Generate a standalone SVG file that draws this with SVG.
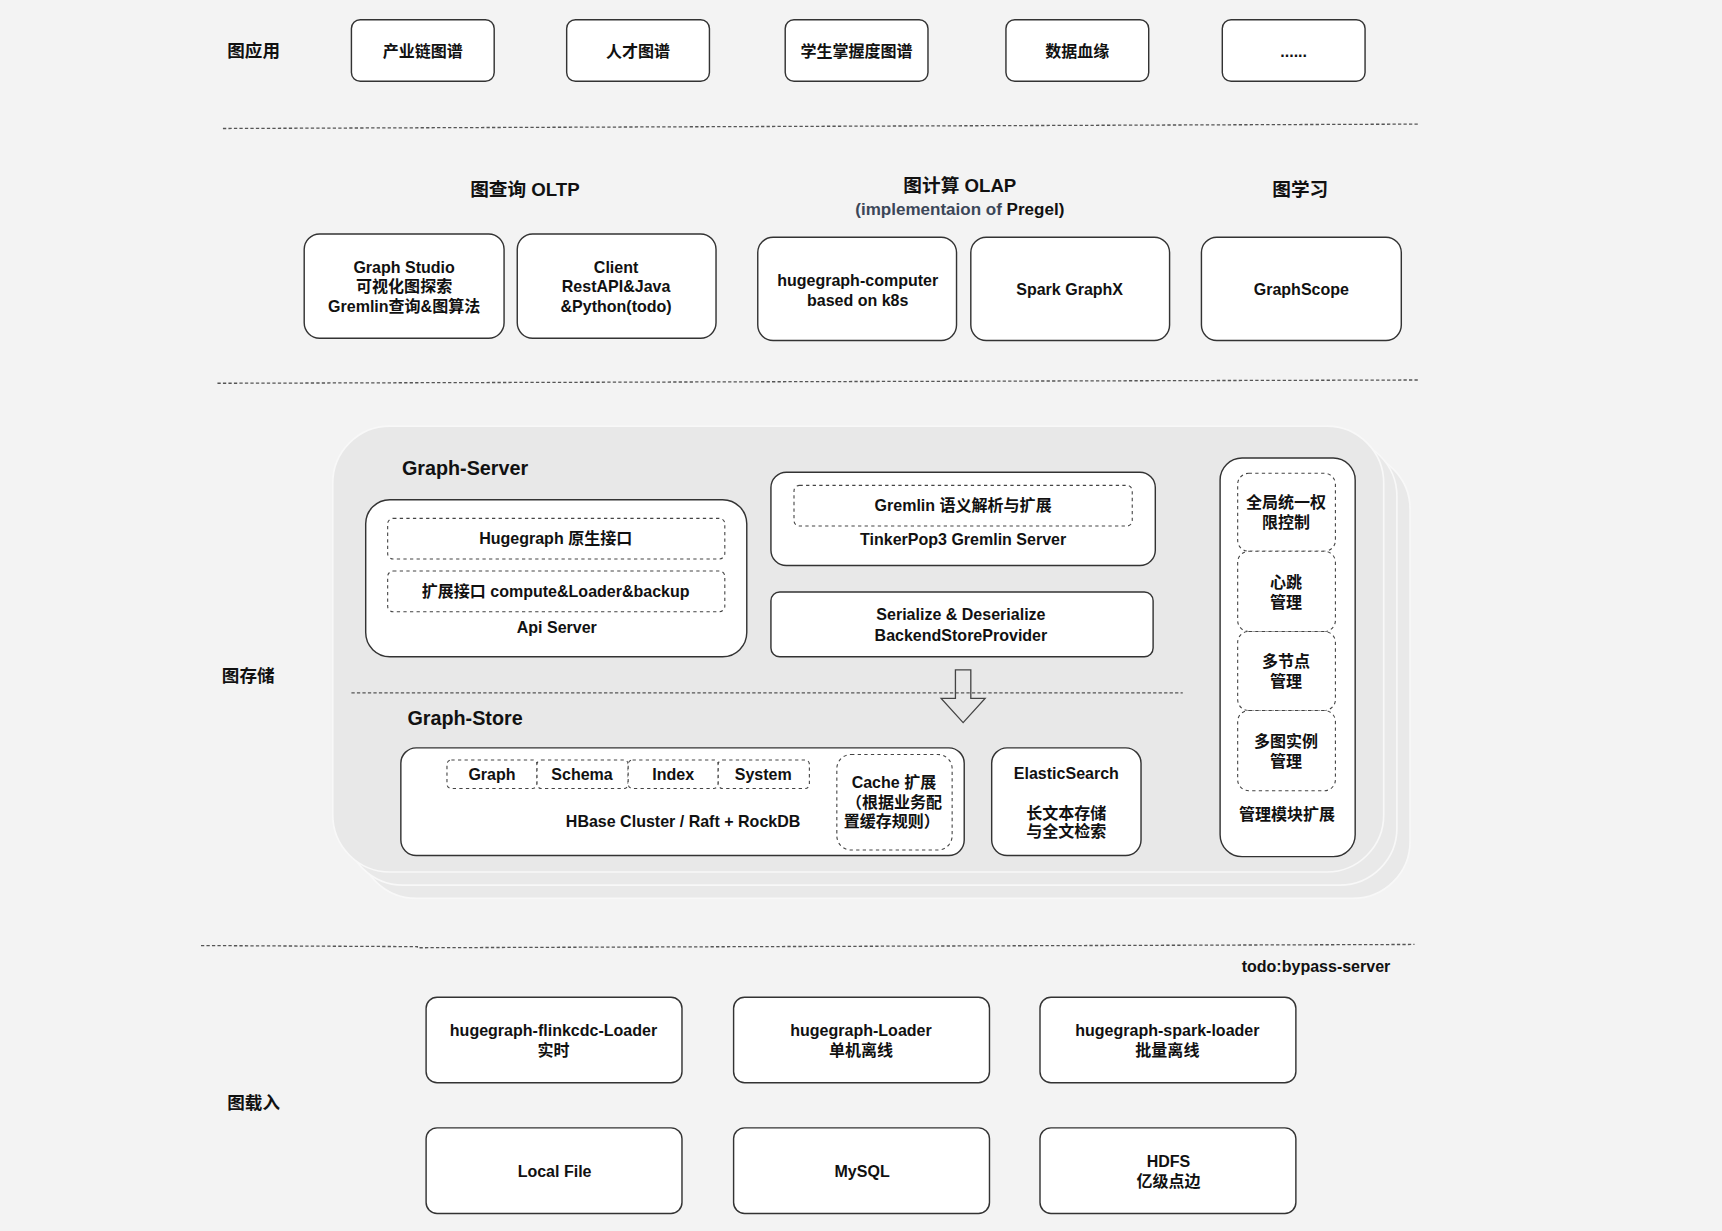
<svg xmlns="http://www.w3.org/2000/svg" width="1722" height="1231" viewBox="0 0 1722 1231">
<defs>
<style>
.t{font-family:"Liberation Sans","Noto Sans CJK SC",sans-serif;font-weight:bold;font-size:14.6px;fill:#111;text-anchor:middle;dominant-baseline:central}
.h{font-size:17px}
.lbl{text-anchor:start;font-size:16px}
.box{fill:#fff;stroke:#333;stroke-width:1.3}
.dbox{fill:#fff;stroke:#444;stroke-width:1;stroke-dasharray:3 3}
.sep{fill:none;stroke:#555;stroke-width:1.2;stroke-dasharray:3 2}
.layer{fill:#e9e9e9;stroke:#f8f8f8;stroke-width:1.5}
</style>
</defs>
<rect width="1722" height="1231" fill="#f3f3f3"/>
<g transform="scale(1.0982)">
<g id="separators">
<polyline class="sep" points="203,117 1293,113"/>
<polyline class="sep" points="198,349 1293,346"/>
<polyline class="sep" points="183,861 380,862 380,863 1288,860"/>
</g>
<g id="row-app">
<text class="t lbl" x="207" y="46">图应用</text>
<g id="app1"><rect class="box" x="320" y="18" width="130" height="56" rx="8"/><text class="t" x="385" y="46">产业链图谱</text></g>
<g id="app2"><rect class="box" x="516" y="18" width="130" height="56" rx="8"/><text class="t" x="581" y="46">人才图谱</text></g>
<g id="app3"><rect class="box" x="715" y="18" width="130" height="56" rx="8"/><text class="t" x="780" y="46">学生掌握度图谱</text></g>
<g id="app4"><rect class="box" x="916" y="18" width="130" height="56" rx="8"/><text class="t" x="981" y="46">数据血缘</text></g>
<g id="app5"><rect class="box" x="1113" y="18" width="130" height="56" rx="8"/><text class="t" x="1178" y="46">......</text></g>
</g>
<g id="row-compute">
<text class="t h" x="478" y="173">图查询 OLTP</text>
<text class="t h" x="874" y="169">图计算 OLAP</text>
<text class="t" x="874" y="190" style="font-size:15.5px"><tspan fill="#3b4658">(implementaion of </tspan><tspan>Pregel)</tspan></text>
<text class="t h" x="1184" y="173">图学习</text>
<g id="studio"><rect class="box" x="277" y="213" width="182" height="95" rx="14"/>
<text class="t" x="368" y="243">Graph Studio</text><text class="t" x="368" y="260">可视化图探索</text><text class="t" x="368" y="279">Gremlin查询&amp;图算法</text></g>
<g id="client"><rect class="box" x="471" y="213" width="181" height="95" rx="14"/>
<text class="t" x="561" y="243">Client</text><text class="t" x="561" y="260">RestAPI&amp;Java</text><text class="t" x="561" y="279">&amp;Python(todo)</text></g>
<g id="computer"><rect class="box" x="690" y="216" width="181" height="94" rx="14"/>
<text class="t" x="781" y="255">hugegraph-computer</text><text class="t" x="781" y="273">based on k8s</text></g>
<g id="graphx"><rect class="box" x="884" y="216" width="181" height="94" rx="14"/><text class="t" x="974" y="263">Spark GraphX</text></g>
<g id="graphscope"><rect class="box" x="1094" y="216" width="182" height="94" rx="14"/><text class="t" x="1185" y="263">GraphScope</text></g>
</g>
<g id="storage">
<text class="t lbl" x="202" y="616">图存储</text>
<rect class="layer" x="327" y="412" width="957" height="406" rx="52"/>
<rect class="layer" x="315" y="400" width="957" height="406" rx="52"/>
<rect class="layer" x="303" y="388" width="957" height="406" rx="52" style="fill:#e8e8e8"/>
<text class="t lbl" x="366" y="426" style="font-size:18px">Graph-Server</text>
<g id="apiserver"><rect class="box" x="333" y="455" width="347" height="143" rx="22"/>
<rect class="dbox" x="353" y="472" width="307" height="37" rx="5"/><text class="t" x="506" y="490">Hugegraph 原生接口</text>
<rect class="dbox" x="353" y="520" width="307" height="37" rx="5"/><text class="t" x="506" y="538">扩展接口 compute&amp;Loader&amp;backup</text>
<text class="t" x="507" y="571">Api Server</text></g>
<g id="gremlin"><rect class="box" x="702" y="430" width="350" height="85" rx="14"/>
<rect class="dbox" x="723" y="442" width="308" height="37" rx="5"/><text class="t" x="877" y="460">Gremlin 语义解析与扩展</text>
<text class="t" x="877" y="491">TinkerPop3 Gremlin Server</text></g>
<g id="serialize"><rect class="box" x="702" y="539" width="348" height="59" rx="8"/>
<text class="t" x="875" y="559">Serialize &amp; Deserialize</text><text class="t" x="875" y="578">BackendStoreProvider</text></g>
<line class="sep" x1="320" y1="631" x2="1077" y2="631"/>
<g id="arrow"><polygon points="870,610 884,610 884,636 897,636 877,658 857,636 870,636" fill="none" stroke="#444" stroke-width="1.2"/></g>
<text class="t lbl" x="371" y="654" style="font-size:18px">Graph-Store</text>
<g id="hbase"><rect class="box" x="365" y="681" width="513" height="98" rx="14"/>
<rect class="dbox" x="407" y="692" width="82" height="26" rx="4"/><text class="t" x="448" y="705">Graph</text>
<rect class="dbox" x="489" y="692" width="83" height="26" rx="4"/><text class="t" x="530" y="705">Schema</text>
<rect class="dbox" x="572" y="692" width="82" height="26" rx="4"/><text class="t" x="613" y="705">Index</text>
<rect class="dbox" x="654" y="692" width="83" height="26" rx="4"/><text class="t" x="695" y="705">System</text>
<text class="t" x="622" y="748">HBase Cluster / Raft + RockDB</text>
<rect class="dbox" x="762" y="687" width="105" height="87" rx="13"/>
<text class="t" x="814" y="712">Cache 扩展</text><text class="t" x="814" y="730">（根据业务配</text><text class="t" x="812" y="748">置缓存规则）</text></g>
<g id="es"><rect class="box" x="903" y="681" width="136" height="98" rx="14"/>
<text class="t" x="971" y="704">ElasticSearch</text><text class="t" x="971" y="740">长文本存储</text><text class="t" x="971" y="757">与全文检索</text></g>
<g id="manage"><rect class="box" x="1111" y="417" width="123" height="363" rx="20"/>
<rect class="dbox" x="1127" y="431" width="89" height="71" rx="10"/><text class="t" x="1171" y="457">全局统一权</text><text class="t" x="1171" y="475">限控制</text>
<rect class="dbox" x="1127" y="502" width="89" height="73" rx="10"/><text class="t" x="1171" y="530">心跳</text><text class="t" x="1171" y="548">管理</text>
<rect class="dbox" x="1127" y="575" width="89" height="72" rx="10"/><text class="t" x="1171" y="602">多节点</text><text class="t" x="1171" y="620">管理</text>
<rect class="dbox" x="1127" y="647" width="89" height="73" rx="10"/><text class="t" x="1171" y="675">多图实例</text><text class="t" x="1171" y="693">管理</text>
<text class="t" x="1172" y="741">管理模块扩展</text></g>
</g>
<g id="load">
<text class="t" x="1266" y="880" style="text-anchor:end">todo:bypass-server</text>
<text class="t lbl" x="207" y="1004">图载入</text>
<g id="flink"><rect class="box" x="388" y="908" width="233" height="78" rx="10"/><text class="t" x="504" y="938">hugegraph-flinkcdc-Loader</text><text class="t" x="504" y="956">实时</text></g>
<g id="loader"><rect class="box" x="668" y="908" width="233" height="78" rx="10"/><text class="t" x="784" y="938">hugegraph-Loader</text><text class="t" x="784" y="956">单机离线</text></g>
<g id="spark"><rect class="box" x="947" y="908" width="233" height="78" rx="10"/><text class="t" x="1063" y="938">hugegraph-spark-loader</text><text class="t" x="1063" y="956">批量离线</text></g>
<g id="localfile"><rect class="box" x="388" y="1027" width="233" height="78" rx="10"/><text class="t" x="505" y="1066">Local File</text></g>
<g id="mysql"><rect class="box" x="668" y="1027" width="233" height="78" rx="10"/><text class="t" x="785" y="1066">MySQL</text></g>
<g id="hdfs"><rect class="box" x="947" y="1027" width="233" height="78" rx="10"/><text class="t" x="1064" y="1057">HDFS</text><text class="t" x="1064" y="1075">亿级点边</text></g>
</g>
</g>
</svg>
